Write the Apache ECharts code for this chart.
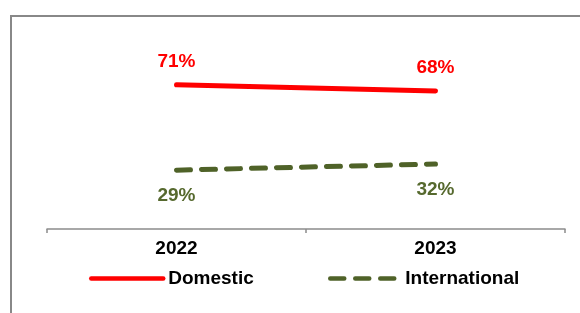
<!DOCTYPE html>
<html>
<head>
<meta charset="utf-8">
<script src="https://cdn.jsdelivr.net/npm/echarts@6/dist/echarts.min.js"></script>
<style>
  html, body { margin: 0; padding: 0; background: #fff; }
  #chart { width: 580px; height: 313px; }
</style>
</head>
<body>
<div id="chart"></div>
<script>
const years = ['2022', '2023']
const domestic = [71, 68]
const international = [29, 32]

const font = 'Arial, "Liberation Sans", sans-serif'
const chart = echarts.init(document.getElementById('chart'))

const option = {
  animation: false,
  graphic: [
    // frame lines at top and left
    { type: 'line', shape: { x1: 10, y1: 16, x2: 580, y2: 16 }, style: { stroke: '#888', lineWidth: 2 } },
    { type: 'line', shape: { x1: 11, y1: 16, x2: 11, y2: 313 }, style: { stroke: '#888', lineWidth: 2 } }
  ],
  grid: { left: 47, right: 15, top: 26, bottom: 84 },
  legend: [
    {
      data: ['Domestic'], left: 89, top: 269, padding: 0, itemWidth: 72, itemHeight: 14,
      itemStyle: { opacity: 0 },
      lineStyle: { width: 4.5 },
      textStyle: { fontFamily: font, fontSize: 19, color: '#000', fontWeight: 'bold' }
    },
    {
      data: ['International'], left: 328, top: 269, padding: 0, itemWidth: 70, itemHeight: 14,
      itemStyle: { opacity: 0 },
      lineStyle: { width: 4.5 },
      textStyle: { fontFamily: font, fontSize: 19, color: '#000', fontWeight: 'bold' }
    }
  ],
  xAxis: {
    type: 'category',
    data: years,
    boundaryGap: true,
    axisLine: { lineStyle: { color: '#8c8c8c', width: 1.5 } },
    axisTick: { show: true, length: 4, lineStyle: { color: '#8c8c8c', width: 1.5 } },
    axisLabel: { fontFamily: font, fontSize: 19, fontWeight: 'bold', color: '#000', margin: 10 }
  },
  yAxis: {
    type: 'value', min: 0, max: 100,
    show: false
  },
  series: [
    {
      name: 'Domestic',
      type: 'line',
      data: domestic,
      symbol: 'circle',
      symbolSize: 0,
      color: '#FF0000',
      lineStyle: { color: '#FF0000', width: 5, cap: 'round' },
      label: {
        show: true, position: 'top', distance: 14,
        formatter: '{c}%',
        fontFamily: font, fontSize: 19, fontWeight: 'bold', color: '#FF0000'
      }
    },
    {
      name: 'International',
      type: 'line',
      data: international,
      symbol: 'circle',
      symbolSize: 0,
      color: '#4F6228',
      lineStyle: { color: '#4F6228', width: 5, type: [14, 11], cap: 'round' },
      label: {
        show: true, position: 'bottom', distance: 16,
        formatter: '{c}%',
        fontFamily: font, fontSize: 19, fontWeight: 'bold', color: '#56692E'
      }
    }
  ]
}
chart.setOption(option)
</script>
</body>
</html>
